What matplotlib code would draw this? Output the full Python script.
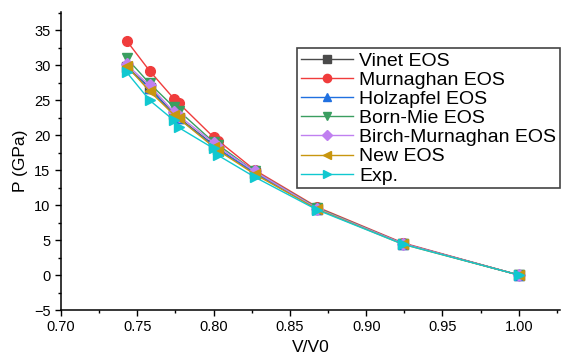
import numpy as np
import matplotlib.pyplot as plt
from matplotlib.ticker import MultipleLocator

plt.rcParams['font.family'] = ['Liberation Sans', 'DejaVu Sans']

# V/V0 values
v_ratio = [0.743, 0.758, 0.774, 0.777, 0.800, 0.803, 0.827, 0.868, 0.924, 1.000]

# pressures (GPa) for each EOS
vinet = [29.8, 26.8, 23.0, 22.5, 18.6, 18.0, 14.6, 9.5, 4.5, 0.0]
murnaghan = [33.5, 29.2, 25.2, 24.6, 19.7, 19.2, 15.0, 9.7, 4.6, 0.0]
holzapfel = [29.7, 26.7, 22.9, 22.4, 18.5, 18.0, 14.6, 9.5, 4.5, 0.0]
born_mie = [31.0, 27.4, 24.0, 23.5, 19.0, 18.6, 14.8, 9.6, 4.5, 0.0]
birch = [30.1, 27.1, 23.3, 22.8, 18.9, 18.3, 14.8, 9.5, 4.5, 0.0]
new_eos = [29.9, 26.3, 22.9, 22.4, 18.3, 17.8, 14.4, 9.4, 4.4, 0.0]
exp = [29.0, 25.0, 22.1, 21.1, 18.1, 17.1, 14.0, 9.3, 4.4, 0.0]

series = [
    ('Vinet EOS', vinet, '#4a4a4a', 's'),
    ('Murnaghan EOS', murnaghan, '#f03c3c', 'o'),
    ('Holzapfel EOS', holzapfel, '#2070e0', '^'),
    ('Born-Mie EOS', born_mie, '#3a9e60', 'v'),
    ('Birch-Murnaghan EOS', birch, '#c080f0', 'D'),
    ('New EOS', new_eos, '#c8960f', '<'),
    ('Exp.', exp, '#10c8d0', '>'),
]

fig = plt.figure(figsize=(5.61, 3.56), dpi=100)
ax = fig.add_axes([61 / 561, 1 - 310 / 356, 499 / 561, 298 / 356])

for name, vals, col, mk in series:
    ms = 6 if mk == 'D' else 7
    ax.plot(v_ratio, vals, color=col, marker=mk, markersize=ms, linewidth=1,
            label=name)

ax.set_xlim(0.70, 1.027)
ax.set_ylim(-5, 37.6)
ax.xaxis.set_major_locator(MultipleLocator(0.05))
ax.xaxis.set_minor_locator(MultipleLocator(0.025))
ax.yaxis.set_major_locator(MultipleLocator(5))
ax.yaxis.set_minor_locator(MultipleLocator(2.5))
ax.xaxis.set_major_formatter(plt.FormatStrFormatter('%.2f'))
ax.tick_params(which='major', length=4, width=1, labelsize=10.5, direction='out')
ax.tick_params(which='minor', length=2.5, width=1, direction='out')

ax.spines['top'].set_visible(False)
ax.spines['right'].set_visible(False)
ax.spines['left'].set_linewidth(1.1)
ax.spines['bottom'].set_linewidth(1.1)

ax.set_xlabel('V/V0', fontsize=12.5)
ax.set_ylabel('P (GPa)', fontsize=12.5)

leg = ax.legend(loc='upper right', bbox_to_anchor=(1.0, 0.879), fontsize=14,
                fancybox=False, edgecolor='#444444', framealpha=1,
                handlelength=2.7, borderpad=0.2, labelspacing=0.08,
                handletextpad=0.3, borderaxespad=0, markerscale=0.85)
leg.get_frame().set_linewidth(1.2)

fig.savefig('out.png', dpi=100)
